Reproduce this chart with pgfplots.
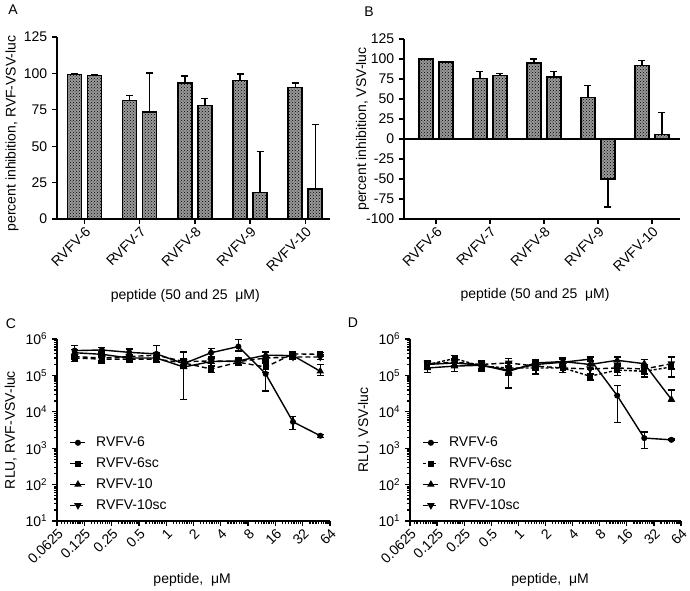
\documentclass[border=0pt]{standalone}
\usepackage{fontspec}
\setmainfont{Liberation Sans}
\usepackage{pgfplots}
\pgfplotsset{compat=1.18}
\usepackage{pgfplotstable}
\usetikzlibrary{patterns}

\def\xminorlist{0.07}
\foreach \k in {0,...,9}{\foreach \i in {2,...,9}{\pgfmathsetmacro\v{0.0625*2^\k*(1+\i/10)}\xdef\xminorlist{\xminorlist,\v}}}

\pgfplotstableread{
x y ep em
0 99.4 0.4 0
1 81.5 3.5 0
2 93.5 4.8 0
3 95.0 4.6 0
4 90.3 3.2 0
}\Aone
\pgfplotstableread{
x y ep em
0 98.7 0.4 0
1 73.6 26.7 0
2 77.9 5.1 0
3 18.3 28.3 0
4 20.6 44.5 0
}\Atwo
\pgfplotstableread{
x y ep em
0 100 0.3 0
1 75.4 9.2 0
2 95.0 5.0 0
3 52.0 15.0 0
4 91.7 6.3 0
}\Bone
\pgfplotstableread{
x y ep em
0 96.3 1.0 0
1 79.2 2.5 0
2 77.5 7.1 0
3 -50.0 0 35.0
4 5.8 27.5 0
}\Btwo

% panel C
\pgfplotstableread{
x y ep em
0.09765625 4.8e5 1.8e5 1.5e5
0.1953125 5.0e5 0.8e5 1.0e5
0.390625 4.3e5 1.0e5 1.0e5
0.78125 3.9e5 2.6e5 1.5e5
1.5625 2.1e5 0.8e5 0.5e5
3.125 4.2e5 1.4e5 1.0e5
6.25 6.2e5 3.3e5 1.5e5
12.5 1.1e5 1.0e5 0.73e5
25 5.3e3 2.3e3 2.1e3
50 2.2e3 0.2e3 0.2e3
}\Csix
\pgfplotstableread{
x y ep em
0.09765625 3.0e5 0.6e5 0.6e5
0.1953125 2.8e5 0.6e5 0.6e5
0.390625 2.8e5 0.5e5 0.5e5
0.78125 2.8e5 0.5e5 0.5e5
1.5625 2.2e5 0.4e5 0.4e5
3.125 1.5e5 0.3e5 0.3e5
6.25 2.3e5 0.4e5 0.4e5
12.5 1.7e5 0.5e5 0.5e5
25 3.9e5 0.6e5 0.6e5
50 3.8e5 0.5e5 0.5e5
}\Csixsc
\pgfplotstableread{
x y ep em
0.09765625 4.2e5 1.0e5 1.0e5
0.1953125 3.8e5 0.6e5 0.6e5
0.390625 3.0e5 0.5e5 0.5e5
0.78125 3.0e5 0.6e5 0.6e5
1.5625 1.7e5 2.7e5 1.48e5
3.125 2.4e5 0.5e5 0.5e5
6.25 2.5e5 0.5e5 0.5e5
12.5 3.6e5 0.8e5 0.8e5
25 3.5e5 0.6e5 0.6e5
50 1.3e5 0.7e5 0.3e5
}\Cten
\pgfplotstableread{
x y ep em
0.09765625 3.3e5 0.5e5 0.5e5
0.1953125 3.0e5 0.5e5 0.5e5
0.390625 3.3e5 0.5e5 0.5e5
0.78125 3.6e5 0.6e5 0.6e5
1.5625 2.4e5 0.4e5 0.4e5
3.125 2.5e5 0.4e5 0.4e5
6.25 2.4e5 0.4e5 0.4e5
12.5 3.0e5 0.5e5 0.5e5
25 3.2e5 0.5e5 0.5e5
50 3.2e5 0.5e5 0.5e5
}\Ctensc

% panel D
\pgfplotstableread{
x y ep em
0.09765625 2.0e5 0.5e5 0.5e5
0.1953125 2.2e5 0.6e5 0.5e5
0.390625 1.9e5 0.5e5 0.5e5
0.78125 1.4e5 0.4e5 0.4e5
1.5625 2.0e5 0.5e5 0.5e5
3.125 2.3e5 0.5e5 0.5e5
6.25 2.8e5 0.4e5 0.4e5
12.5 2.8e4 2.5e4 2.3e4
25 1.9e3 0.9e3 0.9e3
50 1.7e3 0.1e3 0.1e3
}\Dsix
\pgfplotstableread{
x y ep em
0.09765625 2.0e5 0.6e5 0.5e5
0.1953125 2.9e5 0.7e5 0.7e5
0.390625 1.8e5 0.5e5 0.5e5
0.78125 1.6e5 0.5e5 0.5e5
1.5625 1.6e5 0.5e5 0.5e5
3.125 1.6e5 0.4e5 0.4e5
6.25 9.5e4 0.2e5 0.2e5
12.5 1.4e5 0.4e5 0.4e5
25 1.3e5 0.4e5 0.4e5
50 1.7e5 1.5e5 0.8e5
}\Dsixsc
\pgfplotstableread{
x y ep em
0.09765625 1.6e5 0.5e5 0.4e5
0.1953125 1.8e5 0.5e5 0.5e5
0.390625 1.9e5 0.5e5 0.5e5
0.78125 1.3e5 1.0e5 0.85e5
1.5625 2.2e5 0.5e5 0.5e5
3.125 2.4e5 0.6e5 0.5e5
6.25 2.0e5 0.5e5 0.5e5
12.5 2.6e5 0.6e5 0.6e5
25 2.1e5 0.6e5 0.5e5
50 2.2e4 1.8e4 0.3e4
}\Dten
\pgfplotstableread{
x y ep em
0.09765625 2.1e5 0.5e5 0.5e5
0.1953125 2.3e5 0.6e5 0.5e5
0.390625 2.0e5 0.5e5 0.5e5
0.78125 2.2e5 0.7e5 0.5e5
1.5625 1.8e5 0.5e5 0.4e5
3.125 1.6e5 0.4e5 0.4e5
6.25 1.5e5 0.4e5 0.4e5
12.5 1.6e5 0.5e5 0.4e5
25 1.5e5 0.5e5 0.4e5
50 2.1e5 1.2e5 0.6e5
}\Dtensc

\pgfplotsset{
  gp/.style={scale only axis, axis lines*=left,
    axis line style={line width=1.6pt,-},
    tick style={line width=1.3pt,black},
    major tick length=5pt, minor tick length=3pt,
    tick align=outside,
    ylabel style={anchor=center, rotate=0},
    xlabel style={anchor=center},
    tick label style={font=\fontsize{14}{16}\selectfont},
    label style={font=\fontsize{14}{16}\selectfont},
    yticklabel style={/pgf/number format/assume math mode=true},
  },
  gperr/.style={
    error bars/y dir=both, error bars/y explicit,
    error bars/error bar style={line width=1.3pt, solid},
    error bars/error mark options={line width=1.3pt, mark size=3.5pt, rotate=90, solid}},
  gpbar/.style={draw=black, line width=1.5pt, fill=black!40,
    postaction={pattern=crosshatch dots, pattern color=black}, gperr},
  gpline/.style={black, line width=1.4pt, gperr},
}

\begin{document}
\fontsize{14}{16}\selectfont
\begin{tikzpicture}[font=\fontsize{14}{16}\selectfont]
\useasboundingbox (0,0) rectangle (690pt,-590pt);

\node at (13pt,-10pt) {A};
\node at (369pt,-12pt) {B};
\node at (11pt,-324pt) {C};
\node at (353pt,-323pt) {D};

% Panel A
\begin{axis}[gp, at={(57pt,-219pt)}, anchor=south west, width=273pt, height=182pt,
  xmin=-0.5, xmax=4.45, ymin=0, ymax=125, ytick={0,25,50,75,100,125},
  xtick={0,1,2,3,4}, xticklabels={RVFV-6,RVFV-7,RVFV-8,RVFV-9,RVFV-10},
  xticklabel style={rotate=45, anchor=north east, inner sep=1pt},
  ylabel={percent inhibition, RVF-VSV-luc},
  ylabel style={at={(axis description cs:-0.165,0.47)}, rotate=0},
  xlabel={peptide (50 and 25\ \ μM)},
  xlabel style={at={(axis description cs:0.47,-0.42)}},
  ybar, bar width=14pt]
\addplot[gpbar, bar shift=-10pt] table[x=x,y=y,y error plus=ep,y error minus=em]{\Aone};
\addplot[gpbar, bar shift=10pt] table[x=x,y=y,y error plus=ep,y error minus=em]{\Atwo};
\end{axis}

% Panel B
\begin{axis}[gp, at={(404pt,-219pt)}, anchor=south west, width=276pt, height=180pt,
  xmin=-0.59, xmax=4.52, ymin=-100, ymax=125,
  ytick={-100,-75,-50,-25,0,25,50,75,100,125},
  xtick={0,1,2,3,4}, xticklabels={RVFV-6,RVFV-7,RVFV-8,RVFV-9,RVFV-10},
  xticklabel style={rotate=45, anchor=north east, inner sep=1pt},
  extra y ticks={0}, extra y tick labels={},
  extra y tick style={grid=major, major grid style={line width=1.5pt, black}},
  ylabel={percent inhibition, VSV-luc},
  ylabel style={at={(axis description cs:-0.15,0.5)}},
  xlabel={peptide (50 and 25\ \ μM)},
  xlabel style={at={(axis description cs:0.475,-0.42)}},
  ybar, bar width=14pt]
\addplot[gpbar, bar shift=-10pt] table[x=x,y=y,y error plus=ep,y error minus=em]{\Bone};
\addplot[gpbar, bar shift=10pt] table[x=x,y=y,y error plus=ep,y error minus=em]{\Btwo};
\end{axis}

% Panel C
\begin{axis}[xmode=log, ymode=log, gp,
  at={(57pt,-521pt)}, anchor=south west, width=273pt, height=182pt,
  xmin=0.0625, xmax=64, ymin=10, ymax=1e6,
  xtick={0.0625,0.125,0.25,0.5,1,2,4,8,16,32,64},
  xticklabels={0.0625,0.125,0.25,0.5,1,2,4,8,16,32,64},
  xticklabel style={rotate=45, anchor=north east, inner sep=1pt},
  extra x ticks/.expanded=\xminorlist, extra x tick labels={},
  extra x tick style={major tick length=3pt},
  ytick={1e1,1e2,1e3,1e4,1e5,1e6},
  yticklabels={10\textsuperscript{1},10\textsuperscript{2},10\textsuperscript{3},10\textsuperscript{4},10\textsuperscript{5},10\textsuperscript{6}},
  extra y ticks={20,30,40,50,60,70,80,90,200,300,400,500,600,700,800,900,2000,3000,4000,5000,6000,7000,8000,9000,2e4,3e4,4e4,5e4,6e4,7e4,8e4,9e4,2e5,3e5,4e5,5e5,6e5,7e5,8e5,9e5},
  extra y tick labels={}, extra y tick style={major tick length=3pt},
  legend style={draw=none, fill=none, at={(0.035,0.03)}, anchor=south west, row sep=5pt,
    font=\fontsize{14}{16}\selectfont,
    /tikz/every odd column/.append style={column sep=8pt}},
  legend cell align=left,
  legend image code/.code={\draw[mark repeat=2,mark phase=2] plot coordinates {(0pt,0pt) (7.5pt,0pt) (15pt,0pt)};},
  ylabel={RLU, RVF-VSV-luc},
  ylabel style={at={(axis description cs:-0.17,0.5)}},
  xlabel={peptide,\ \ μM},
  xlabel style={at={(axis description cs:0.495,-0.324)}}]
\addplot[gpline, mark=*, mark size=2.3pt] table[x=x,y=y,y error plus=ep,y error minus=em]{\Csix};
\addplot[gpline, dashed, dash pattern=on 5pt off 3pt, mark=square*, mark size=2.3pt, mark options={solid}] table[x=x,y=y,y error plus=ep,y error minus=em]{\Csixsc};
\addplot[gpline, mark=triangle*, mark size=3pt] table[x=x,y=y,y error plus=ep,y error minus=em]{\Cten};
\addplot[gpline, dashed, dash pattern=on 5pt off 3pt, mark=triangle*, mark size=3pt, mark options={solid, rotate=180}] table[x=x,y=y,y error plus=ep,y error minus=em]{\Ctensc};
\legend{RVFV-6,RVFV-6sc,RVFV-10,RVFV-10sc}
\end{axis}

% Panel D
\begin{axis}[xmode=log, ymode=log, gp,
  at={(410pt,-521pt)}, anchor=south west, width=271pt, height=182pt,
  xmin=0.0625, xmax=64, ymin=10, ymax=1e6,
  xtick={0.0625,0.125,0.25,0.5,1,2,4,8,16,32,64},
  xticklabels={0.0625,0.125,0.25,0.5,1,2,4,8,16,32,64},
  xticklabel style={rotate=45, anchor=north east, inner sep=1pt},
  extra x ticks/.expanded=\xminorlist, extra x tick labels={},
  extra x tick style={major tick length=3pt},
  ytick={1e1,1e2,1e3,1e4,1e5,1e6},
  yticklabels={10\textsuperscript{1},10\textsuperscript{2},10\textsuperscript{3},10\textsuperscript{4},10\textsuperscript{5},10\textsuperscript{6}},
  extra y ticks={20,30,40,50,60,70,80,90,200,300,400,500,600,700,800,900,2000,3000,4000,5000,6000,7000,8000,9000,2e4,3e4,4e4,5e4,6e4,7e4,8e4,9e4,2e5,3e5,4e5,5e5,6e5,7e5,8e5,9e5},
  extra y tick labels={}, extra y tick style={major tick length=3pt},
  legend style={draw=none, fill=none, at={(0.035,0.03)}, anchor=south west, row sep=5pt,
    font=\fontsize{14}{16}\selectfont,
    /tikz/every odd column/.append style={column sep=8pt}},
  legend cell align=left,
  legend image code/.code={\draw[mark repeat=2,mark phase=2] plot coordinates {(0pt,0pt) (7.5pt,0pt) (15pt,0pt)};},
  ylabel={RLU, VSV-luc},
  ylabel style={at={(axis description cs:-0.17,0.5)}},
  xlabel={peptide,\ \ μM},
  xlabel style={at={(axis description cs:0.517,-0.324)}}]
\addplot[gpline, mark=*, mark size=2.3pt] table[x=x,y=y,y error plus=ep,y error minus=em]{\Dsix};
\addplot[gpline, dashed, dash pattern=on 3pt off 2pt, mark=square*, mark size=2.3pt, mark options={solid}] table[x=x,y=y,y error plus=ep,y error minus=em]{\Dsixsc};
\addplot[gpline, mark=triangle*, mark size=3pt] table[x=x,y=y,y error plus=ep,y error minus=em]{\Dten};
\addplot[gpline, dashed, dash pattern=on 5pt off 3pt, mark=triangle*, mark size=3pt, mark options={solid, rotate=180}] table[x=x,y=y,y error plus=ep,y error minus=em]{\Dtensc};
\legend{RVFV-6,RVFV-6sc,RVFV-10,RVFV-10sc}
\end{axis}
\end{tikzpicture}
\end{document}
